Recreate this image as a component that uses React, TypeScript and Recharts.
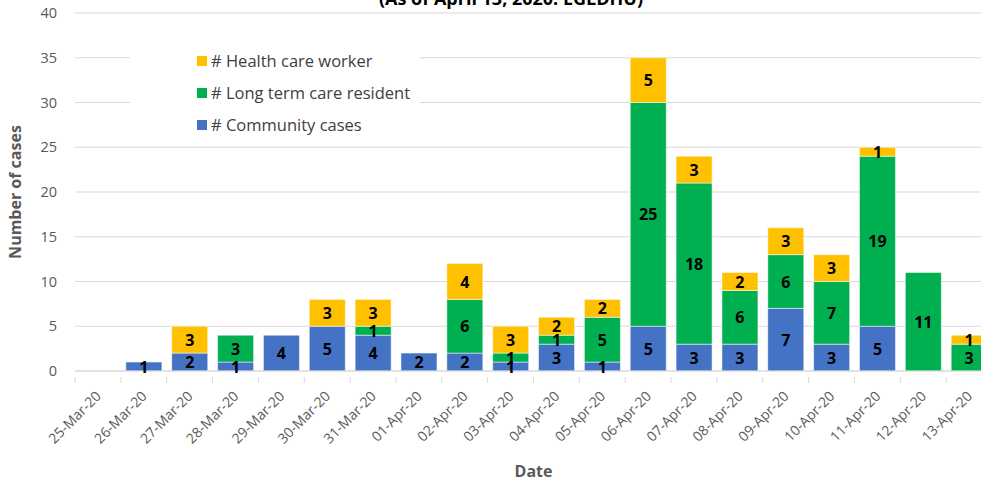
import React from "react";
import { BarChart, Bar, XAxis, YAxis, CartesianGrid, LabelList, Label } from "recharts";

const dates = ["25-Mar-20","26-Mar-20","27-Mar-20","28-Mar-20","29-Mar-20","30-Mar-20","31-Mar-20","01-Apr-20","02-Apr-20","03-Apr-20","04-Apr-20","05-Apr-20","06-Apr-20","07-Apr-20","08-Apr-20","09-Apr-20","10-Apr-20","11-Apr-20","12-Apr-20","13-Apr-20"];
const community = [0,1,2,1,4,5,4,2,2,1,3,1,5,3,3,7,3,5,0,0];
const longTermCare = [0,0,0,3,0,0,1,0,6,1,1,5,25,18,6,6,7,19,11,3];
const healthCareWorker = [0,0,3,0,0,3,3,0,4,3,2,2,5,3,2,3,3,1,0,1];
const yTicks = [0,5,10,15,20,25,30,35,40];

const data = dates.map((d, i) => ({
  date: d,
  community: community[i],
  ltc: longTermCare[i],
  hcw: healthCareWorker[i],
}));

const FONT = "'Open Sans', 'Liberation Sans', sans-serif";

const SegLabel = (props: any) => {
  const { x, y, width, height, value } = props;
  if (!value) return null;
  return (
    <text
      x={x + width / 2}
      y={y + height / 2}
      textAnchor="middle"
      dominantBaseline="central"
      fontFamily={FONT}
      fontWeight="bold"
      fontSize={16}
      fill="#000"
    >
      {value}
    </text>
  );
};

const XTick = (props: any) => {
  const { x, y, payload } = props;
  const band = 917 / dates.length;
  return (
    <g>
      <line x1={x - band / 2} y1={y - 2} x2={x - band / 2} y2={y + 4} stroke="#D9D9D9" />
      <text
        x={x + 4}
        y={y + 18}
        transform={`rotate(-45, ${x + 4}, ${y + 18})`}
        textAnchor="end"
        fontFamily={FONT}
        fontSize={14}
        fill="#595959"
      >
        {payload.value}
      </text>
    </g>
  );
};

const legendItems = [
  { label: "# Health care worker", color: "#FFC000" },
  { label: "# Long term care resident", color: "#00B050" },
  { label: "# Community cases", color: "#4472C4" },
];

const LegendBox = () => (
  <div style={{ position: "absolute", left: 130, top: 40, background: "#fff", width: 290, height: 100 }}>
    {legendItems.map((it, i) => (
      <div
        key={it.label}
        style={{
          position: "absolute",
          left: 67,
          top: 11 + i * 32,
          display: "flex",
          alignItems: "center",
          fontFamily: FONT,
          fontSize: 16.5,
          lineHeight: "20px",
          color: "#404040",
          whiteSpace: "nowrap",
        }}
      >
        <span style={{ display: "inline-block", width: 10, height: 10, background: it.color, marginRight: 4 }} />
        {it.label}
      </div>
    ))}
  </div>
);

export default function App() {
  return (
    <div style={{ position: "absolute", left: 0, top: 0, width: 981, height: 480, overflow: "hidden", background: "#fff" }}>
      <BarChart
        width={1000}
        height={480}
        data={data}
        margin={{ top: 13, right: 8, bottom: 0, left: 0 }}
        barCategoryGap="11%"
      >
        <text x={511} y={5} textAnchor="middle" fontFamily={FONT} fontWeight="bold" fontSize={18} fill="#000">
          (As of April 13, 2020: EGLDHU)
        </text>
        <CartesianGrid vertical={false} stroke="#D9D9D9" />
        <XAxis
          dataKey="date"
          height={109}
          interval={0}
          tickLine={false}
          axisLine={{ stroke: "#D9D9D9" }}
          tick={<XTick />}
        >
          <Label value="Date" position="insideBottom" offset={3} style={{ fontFamily: FONT, fontWeight: "bold", fontSize: 16, fill: "#595959" }} />
        </XAxis>
        <YAxis
          width={75}
          domain={[0, 40]}
          ticks={yTicks}
          interval={0}
          axisLine={false}
          tickLine={false}
          tick={{ fontFamily: FONT, fontSize: 14.5, fill: "#595959" }}
          tickMargin={12}
        >
          <Label
            value="Number of cases"
            angle={-90}
            position="insideLeft"
            offset={15}
            style={{ textAnchor: "middle", fontFamily: FONT, fontWeight: "bold", fontSize: 16, fill: "#595959" }}
          />
        </YAxis>
        <Bar dataKey="community" stackId="a" fill="#4472C4" stroke="#ffffff" strokeOpacity={0.5} isAnimationActive={false}>
          <LabelList dataKey="community" content={<SegLabel />} />
        </Bar>
        <Bar dataKey="ltc" stackId="a" fill="#00B050" stroke="#ffffff" strokeOpacity={0.5} isAnimationActive={false}>
          <LabelList dataKey="ltc" content={<SegLabel />} />
        </Bar>
        <Bar dataKey="hcw" stackId="a" fill="#FFC000" stroke="#ffffff" strokeOpacity={0.5} isAnimationActive={false}>
          <LabelList dataKey="hcw" content={<SegLabel />} />
        </Bar>
      </BarChart>
      <LegendBox />
    </div>
  );
}
